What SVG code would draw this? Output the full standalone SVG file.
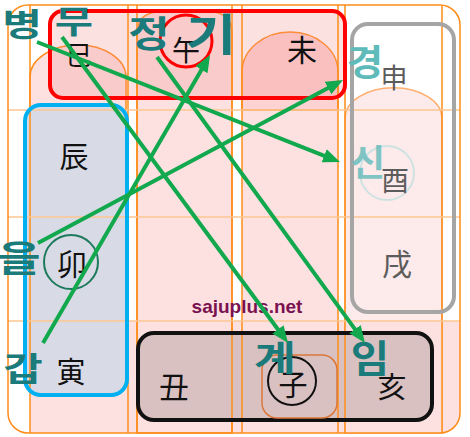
<svg xmlns="http://www.w3.org/2000/svg" width="470" height="437" viewBox="0 0 470 437">
<defs>
<marker id="ah" markerUnits="userSpaceOnUse" markerWidth="17" markerHeight="14" viewBox="0 0 17 14" refX="7" refY="7" orient="auto">
<path d="M0,0 L17,7 L0,14 Z" fill="#12a84e"/>
</marker>
<style>
.cell{fill:#fde1e1;stroke:#ff8c1a;stroke-width:1.5}
.vl{stroke:#ff8c1a;stroke-width:1.5}
.hl{stroke:#fcc690;stroke-width:1.5}
.hj{font-family:"Noto Sans CJK KR","Noto Sans CJK SC",sans-serif;font-size:29px;text-anchor:middle;fill:#111}
.gy{fill:#5c5c5c}
.ko{font-family:"Noto Sans CJK KR",sans-serif;font-weight:bold;text-anchor:middle;fill:#1b7b7b}
.kl{fill:#5fbaba}
.ar{stroke:#12a84e;stroke-width:4;fill:none;marker-end:url(#ah)}
</style>
</defs>
<rect width="470" height="437" fill="#ffffff"/>
<g id="background">
<path d="M30,321 H460 V413 A20,20 0 0 1 440,433 H30 Z" fill="#fde1e1"/>
<rect x="30" y="110" width="98" height="323" fill="#fde1e1"/>
<path class="cell" d="M30,110 V77 A48,32 0 0 1 126,77 V110 Z"/>
<path class="cell" d="M137,433 V34 Q137,12 160,12 H210 Q232,12 232,34 V433 Z"/>
<rect x="242" y="110" width="96" height="323" fill="#fde1e1"/>
<path class="cell" d="M242,110 V72 A48,40 0 0 1 338,72 V110 Z" style="fill:#fdd2d2"/>
<path d="M345,433 V118 A48,30 0 0 1 442,118 V433 Z" fill="#fdeaea" stroke="#ffb070" stroke-width="1.5"/>
<rect x="345" y="321" width="97" height="112" fill="#fde1e1"/>
<rect x="25" y="105" width="102" height="290" rx="16" fill="#d8dbe5"/>
<rect x="138" y="333" width="294" height="87" rx="16" fill="#dac1c1"/>
<rect x="50" y="11" width="295" height="87" rx="13" fill="#f59090" fill-opacity="0.27"/>
<g id="grid">
<line class="vl" x1="30" y1="5" x2="30" y2="433"/>
<line class="vl" x1="128" y1="5" x2="128" y2="433"/>
<line class="vl" x1="137" y1="5" x2="137" y2="433"/>
<line class="vl" x1="232" y1="5" x2="232" y2="433"/>
<line class="vl" x1="242" y1="5" x2="242" y2="433"/>
<line class="vl" x1="338" y1="5" x2="338" y2="433"/>
<line class="vl" x1="345" y1="5" x2="345" y2="433"/>
<line class="vl" x1="442" y1="5" x2="442" y2="433"/>
<line class="hl" x1="8" y1="110" x2="460" y2="110"/>
<line class="hl" x1="8" y1="217" x2="460" y2="217"/>
<line class="hl" x1="8" y1="321" x2="460" y2="321"/>
<rect x="8" y="5" width="452" height="428" rx="20" fill="none" stroke="#ff8c1a" stroke-width="1.5"/>
</g>
</g>
<g id="frame-stem" fill="none">
<rect x="50" y="11" width="295" height="87" rx="13" stroke="#ff0000" stroke-width="4"/>
</g>
<g id="frame-east" fill="none">
<rect x="25" y="105" width="102" height="290" rx="16" stroke="#00b0f0" stroke-width="4"/>
</g>
<g id="frame-west" fill="none">
<rect x="352" y="24" width="102" height="288" rx="16" stroke="#a5a5a5" stroke-width="4"/>
</g>
<g id="frame-north" fill="none">
<rect x="138" y="333" width="294" height="87" rx="16" stroke="#111111" stroke-width="4"/>
<rect x="262" y="355" width="75" height="63" rx="15" stroke="#d9773a" stroke-width="1.5"/>
</g>
<g id="n-sa"><text class="hj" x="79" y="65" style="font-size:26px">巳</text></g>
<g id="n-o"><circle cx="186" cy="41" r="26" fill="none" stroke="#ff0000" stroke-width="3"/><text class="hj" x="186" y="61" style="font-size:28px">午</text></g>
<g id="n-mi"><text class="hj" x="302" y="61" style="font-size:30px">未</text></g>
<g id="n-jin"><text class="hj" x="74" y="168">辰</text></g>
<g id="n-myo"><circle cx="71" cy="262" r="27" fill="none" stroke="#1e7a5c" stroke-width="2"/><text class="hj" x="72" y="275" style="font-size:30px">卯</text></g>
<g id="n-in"><text class="hj" x="71" y="383">寅</text></g>
<g id="n-sin2"><text class="hj gy" x="394" y="88" style="font-size:27px">申</text></g>
<g id="n-yu"><circle cx="387" cy="173" r="27" fill="none" stroke="#cfe2e2" stroke-width="2"/><text class="hj gy" x="395" y="191" style="font-size:28px">酉</text></g>
<g id="n-sul"><text class="hj gy" x="397" y="275" style="font-size:30px">戌</text></g>
<g id="n-chuk"><text class="hj" x="174" y="398" style="font-size:30px">丑</text></g>
<g id="n-ja"><circle cx="292" cy="381" r="24" fill="none" stroke="#111" stroke-width="2"/><text class="hj" x="293" y="396">子</text></g>
<g id="n-hae"><text class="hj" x="392" y="398">亥</text></g>
<g id="l-byeong"><text class="ko" transform="translate(22,36) scale(1.35,1)" font-size="32">병</text></g>
<g id="l-mu"><text class="ko" transform="translate(74,33) scale(1.3,1)" font-size="32">무</text></g>
<g id="l-jeong"><text class="ko" transform="translate(149,47) scale(1.25,1)" font-size="36">정</text></g>
<g id="l-gi"><text class="ko" transform="translate(211,51) scale(1.25,1)" font-size="44">기</text></g>
<g id="l-gyeong"><text class="ko kl" transform="translate(365,76) scale(1.1,1)" font-size="36">경</text></g>
<g id="l-sin"><text class="ko kl" transform="translate(368,176) scale(1.05,1)" font-size="36" fill-opacity="0.8">신</text></g>
<g id="l-eul"><text class="ko" transform="translate(19,272) scale(1.3,1)" font-size="36">을</text></g>
<g id="l-gap"><text class="ko" transform="translate(23,381) scale(1.3,1)" font-size="33">갑</text></g>
<g id="l-gye"><text class="ko" transform="translate(275,371) scale(1.3,1)" font-size="35">계</text></g>
<g id="l-im"><text class="ko" transform="translate(370,372) scale(1.1,1)" font-size="38">임</text></g>
<g id="watermark"><text x="247" y="313" font-family="Liberation Sans, Arial, sans-serif" font-weight="bold" font-size="19" fill="#7a1250" text-anchor="middle">sajuplus.net</text></g>
<g id="connectors">
<line class="ar" x1="37" y1="42" x2="330.7" y2="158.3"/>
<line class="ar" x1="62" y1="37" x2="282.1" y2="335"/>
<line class="ar" x1="157" y1="57" x2="359.1" y2="334.9"/>
<line class="ar" x1="43" y1="343" x2="205" y2="63.7"/>
<line class="ar" x1="38" y1="243" x2="334.2" y2="84.7"/>
</g>
</svg>
